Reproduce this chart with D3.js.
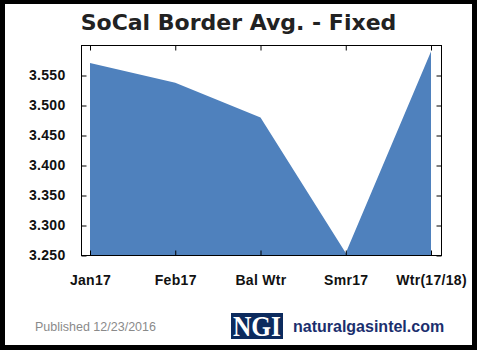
<!DOCTYPE html>
<html>
<head>
<meta charset="utf-8">
<script src="https://cdn.jsdelivr.net/npm/d3@7"></script>
<style>
  html, body { margin: 0; padding: 0; background: #000; }
  svg { display: block; }
</style>
</head>
<body>
<script>
// Forward price strip for SoCal Border (fixed price, $/MMBtu)
const categories = ["Jan17", "Feb17", "Bal Wtr", "Smr17", "Wtr(17/18)"];
const prices = [3.571, 3.538, 3.480, 3.254, 3.590];
const yTicks = [3.25, 3.30, 3.35, 3.40, 3.45, 3.50, 3.55];
const yDomain = [3.25, 3.60];

const W = 477, H = 350;
const frame = { left: 81.5, right: 441.5, top: 45.5, bottom: 255.5 };

const svg = d3.select("body").append("svg")
  .attr("width", W).attr("height", H);

// black outer border with white card
svg.append("rect").attr("width", W).attr("height", H).attr("fill", "#000");
svg.append("rect").attr("x", 5).attr("y", 4).attr("width", 467).attr("height", 341).attr("fill", "#fff");

// title
svg.append("text")
  .attr("x", 238.5).attr("y", 30)
  .attr("text-anchor", "middle")
  .attr("font-family", "DejaVu Sans")
  .attr("font-weight", "bold")
  .attr("font-size", 22)
  .attr("fill", "#222")
  .text("SoCal Border Avg. - Fixed");

const x = d3.scalePoint().domain(categories).range([90, 431]);
const y = d3.scaleLinear().domain(yDomain).range([frame.bottom, frame.top]);

// filled area from the axis minimum up to each price
const area = d3.area()
  .x((d, i) => x(categories[i]))
  .y0(y(yDomain[0]))
  .y1(d => y(d));

svg.append("path")
  .datum(prices)
  .attr("d", area)
  .attr("fill", "#4f81bd");

// plot frame
svg.append("rect")
  .attr("x", frame.left).attr("y", frame.top)
  .attr("width", frame.right - frame.left)
  .attr("height", frame.bottom - frame.top)
  .attr("fill", "none").attr("stroke", "#000").attr("stroke-width", 1);

const tickLen = 5;
const labelFont = sel => sel
  .attr("font-family", "Liberation Sans, Arial, sans-serif")
  .attr("font-weight", "bold")
  .attr("font-size", 14)
  .attr("letter-spacing", 0.3)
  .attr("fill", "#111");

// y axis: inward ticks on the left, labels outside
const yAxis = d3.axisLeft(y).tickValues(yTicks).tickSize(-tickLen).tickPadding(11 + tickLen)
  .tickFormat(d3.format(".3f"));
const gy = svg.append("g").attr("transform", `translate(${frame.left},0)`).call(yAxis);
gy.select(".domain").remove();
gy.selectAll("line").attr("stroke", "#000");
gy.selectAll("text").call(labelFont);

// mirrored ticks on the right
const gyr = svg.append("g").attr("transform", `translate(${frame.right},0)`)
  .call(d3.axisRight(y).tickValues(yTicks).tickSize(-tickLen).tickFormat(""));
gyr.select(".domain").remove();
gyr.selectAll("line").attr("stroke", "#000");

// x axis: inward ticks at the bottom, labels below
const xAxis = d3.axisBottom(x).tickSize(-tickLen).tickPadding(15 + tickLen);
const gx = svg.append("g").attr("transform", `translate(0,${frame.bottom})`).call(xAxis);
gx.select(".domain").remove();
gx.selectAll("line").attr("stroke", "#000");
gx.selectAll("text").call(labelFont);

// mirrored ticks on the top
const gxt = svg.append("g").attr("transform", `translate(0,${frame.top})`)
  .call(d3.axisTop(x).tickSize(-tickLen).tickFormat(""));
gxt.select(".domain").remove();
gxt.selectAll("line").attr("stroke", "#000");

// footer
svg.append("text")
  .attr("x", 35).attr("y", 331)
  .attr("font-family", "Liberation Sans, Arial, sans-serif")
  .attr("font-size", 12.5)
  .attr("fill", "#8a8a8a")
  .text("Published 12/23/2016");

svg.append("rect")
  .attr("x", 231).attr("y", 313).attr("width", 52).attr("height", 26)
  .attr("fill", "#0c2b5e");
svg.append("text")
  .attr("x", 233).attr("y", 336)
  .attr("font-family", "Liberation Serif, serif")
  .attr("font-weight", "bold")
  .attr("font-size", 30)
  .attr("textLength", 48)
  .attr("lengthAdjust", "spacingAndGlyphs")
  .attr("fill", "#fff")
  .text("NGI");

svg.append("text")
  .attr("x", 293).attr("y", 332)
  .attr("font-family", "Liberation Sans, Arial, sans-serif")
  .attr("font-weight", "bold")
  .attr("font-size", 16)
  .attr("fill", "#1b2f6e")
  .text("naturalgasintel.com");
</script>
</body>
</html>
